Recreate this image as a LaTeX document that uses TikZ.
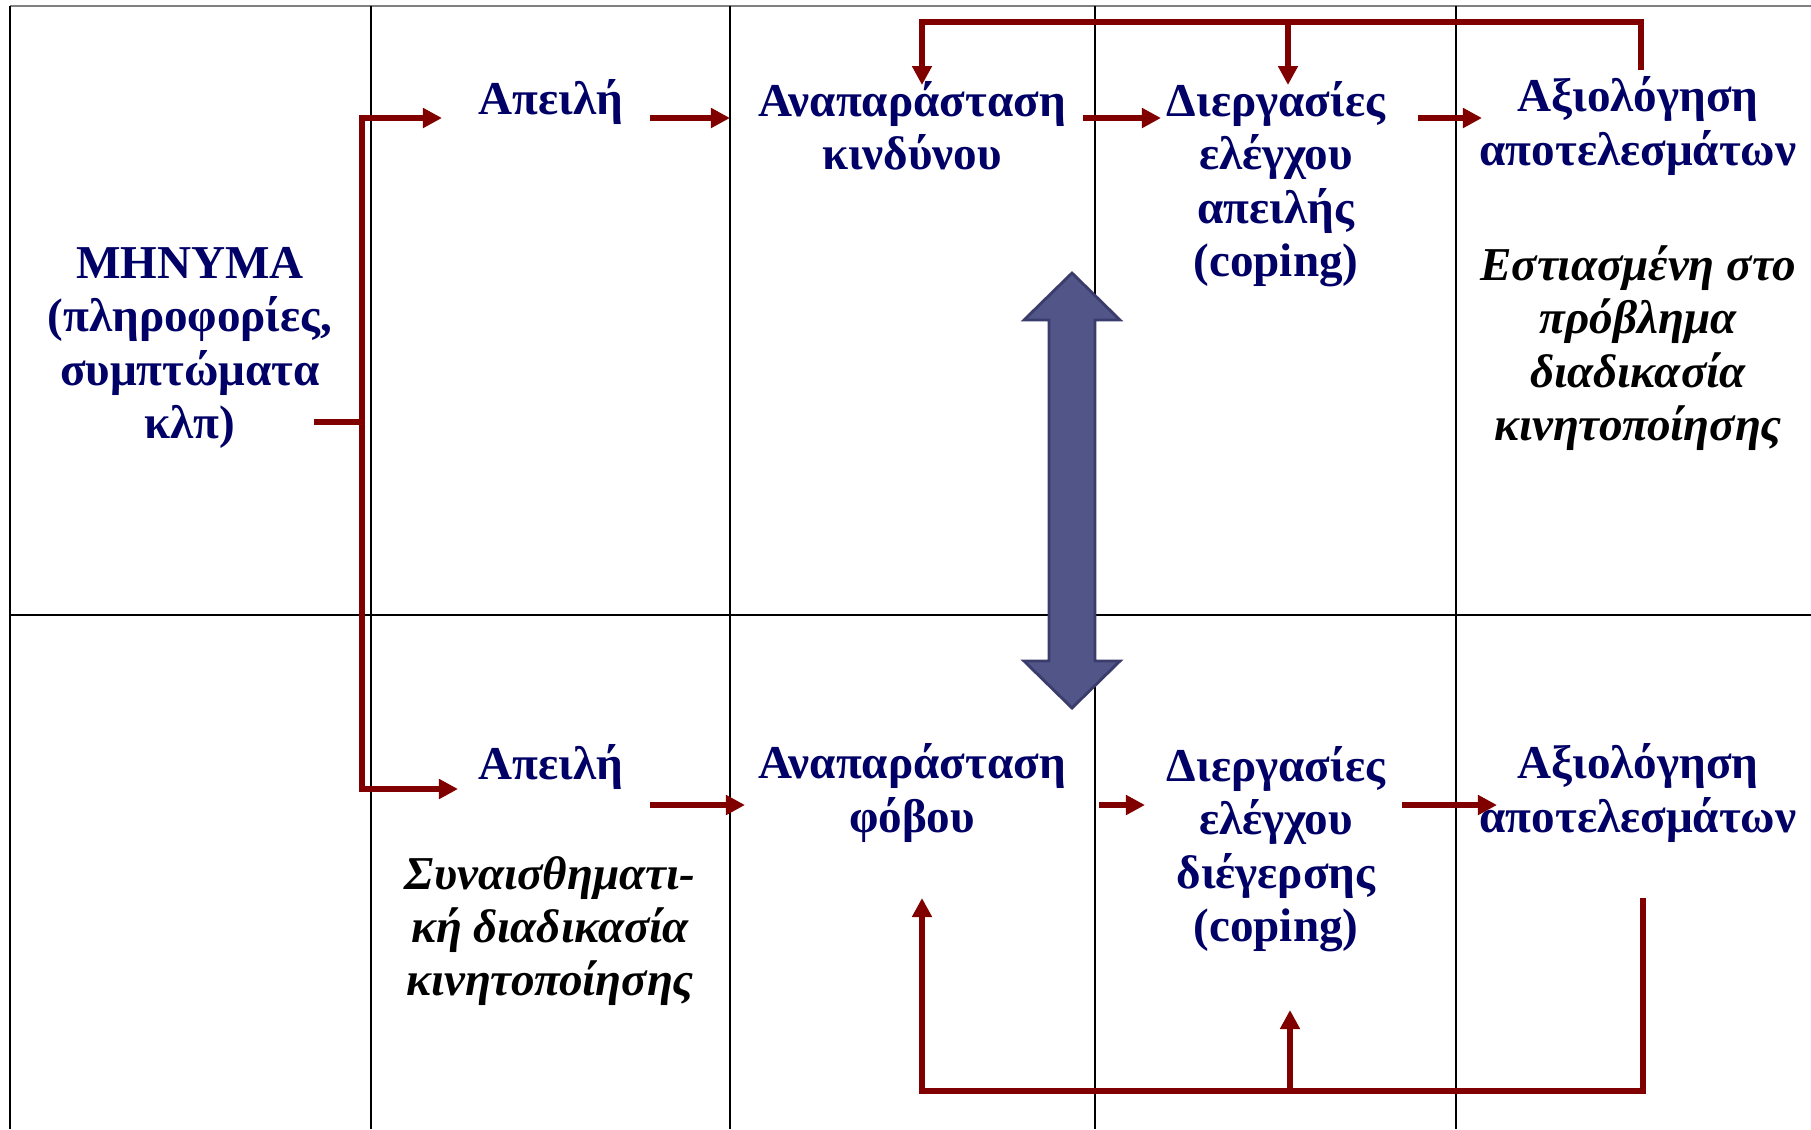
\documentclass[tikz,border=0pt]{standalone}
\usepackage{fontspec}
\setmainfont{Liberation Serif}
\usepackage{xcolor}
\usetikzlibrary{arrows.meta}
\definecolor{msgNavy}{RGB}{0,0,102}
\definecolor{msgRed}{RGB}{128,0,0}
\definecolor{msgSlate}{RGB}{82,85,135}
\definecolor{msgSlateDark}{RGB}{58,60,108}
\definecolor{msgGrey}{RGB}{128,128,128}

\tikzset{
    cell/.style={font=\fontsize{13.4}{15.2}\selectfont\bfseries, text=msgNavy, align=center, inner sep=0pt},
    note/.style={font=\fontsize{13.4}{15.2}\selectfont\bfseries\itshape, text=black, align=center, inner sep=0pt},
    grid/.style={draw=black, line width=0.7pt},
    redline/.style={draw=msgRed, line width=1.6pt},
    redarr/.style={redline, -{Triangle[length=0.19cm, width=0.19cm]}}
}

\begin{document}
\begin{tikzpicture}[x=0.01cm, y=-0.01cm]
    \useasboundingbox (0,0) rectangle (1811,1129);
    % table
    \draw[draw=msgGrey, line width=0.7pt] (10,6) -- (1811,6);
    \draw[grid] (10,615) -- (1811,615);
    \foreach \cx in {10,371,730,1095,1456}
        \draw[grid] (\cx,6) -- (\cx,1129);

    % texts
    \node[cell] (msg) at (190,348) {ΜΗΝΥΜΑ\\(πληροφορίες,\\συμπτώματα\\κλπ)};
    \node[cell] (apeiliA) at (551,102) {Απειλή};
    \node[cell] (anapA) at (912,126) {Αναπαράσταση\\κινδύνου};
    \node[cell] (dierA) at (1276,184) {Διεργασίες\\ελέγχου\\απειλής\\(coping)};
    \node[cell] (axiolA) at (1638,126) {Αξιολόγηση\\αποτελεσμάτων};
    \node[note] (focusA) at (1638,348) {Εστιασμένη στο\\πρόβλημα\\διαδικασία\\κινητοποίησης};
    \node[cell] (apeiliB) at (551,767) {Απειλή};
    \node[note] (focusB) at (550,931) {Συναισθηματι-\\κή διαδικασία\\κινητοποίησης};
    \node[cell] (anapB) at (912,793) {Αναπαράσταση\\φόβου};
    \node[cell] (dierB) at (1276,849) {Διεργασίες\\ελέγχου\\διέγερσης\\(coping)};
    \node[cell] (axiolB) at (1638,793) {Αξιολόγηση\\αποτελεσμάτων};

    % connector points
    \coordinate (msgOut) at (314,422);
    \coordinate (split) at (362,422);
    \coordinate (inA) at (442,118);
    \coordinate (inB) at (458,789);
    \coordinate (fbTop) at (1641,70);
    \coordinate (fbBot) at (1643,898);

    \draw[redline] (msgOut) -- (split);
    \draw[redarr] (split) |- (inA);
    \draw[redarr] (split) |- (inB);

    % upper chain
    \draw[redarr] (650,118) -- (730,118);
    \draw[redarr] (1083,118) -- (1161,118);
    \draw[redarr] (1418,118) -- (1482,118);
    \draw[redarr] (fbTop) -- (1641,22) -- (922,22) -- (922,85);
    \draw[redarr] (1288,22) -- (1288,85);

    % lower chain
    \draw[redarr] (650,805) -- (745,805);
    \draw[redarr] (1099,805) -- (1145,805);
    \draw[redarr] (1402,805) -- (1497,805);
    \draw[redarr] (fbBot) -- (1643,1091) -- (922,1091) -- (922,898);
    \draw[redarr] (1290,1091) -- (1290,1010);

    % double arrow
    \draw[fill=msgSlate, draw=msgSlateDark, line width=0.8pt, line join=miter]
        (1072,273) -- (1120,320) -- (1095,320) -- (1095,661) -- (1120,661)
        -- (1072,708) -- (1024,661) -- (1049,661) -- (1049,320) -- (1024,320) -- cycle;
\end{tikzpicture}
\end{document}
